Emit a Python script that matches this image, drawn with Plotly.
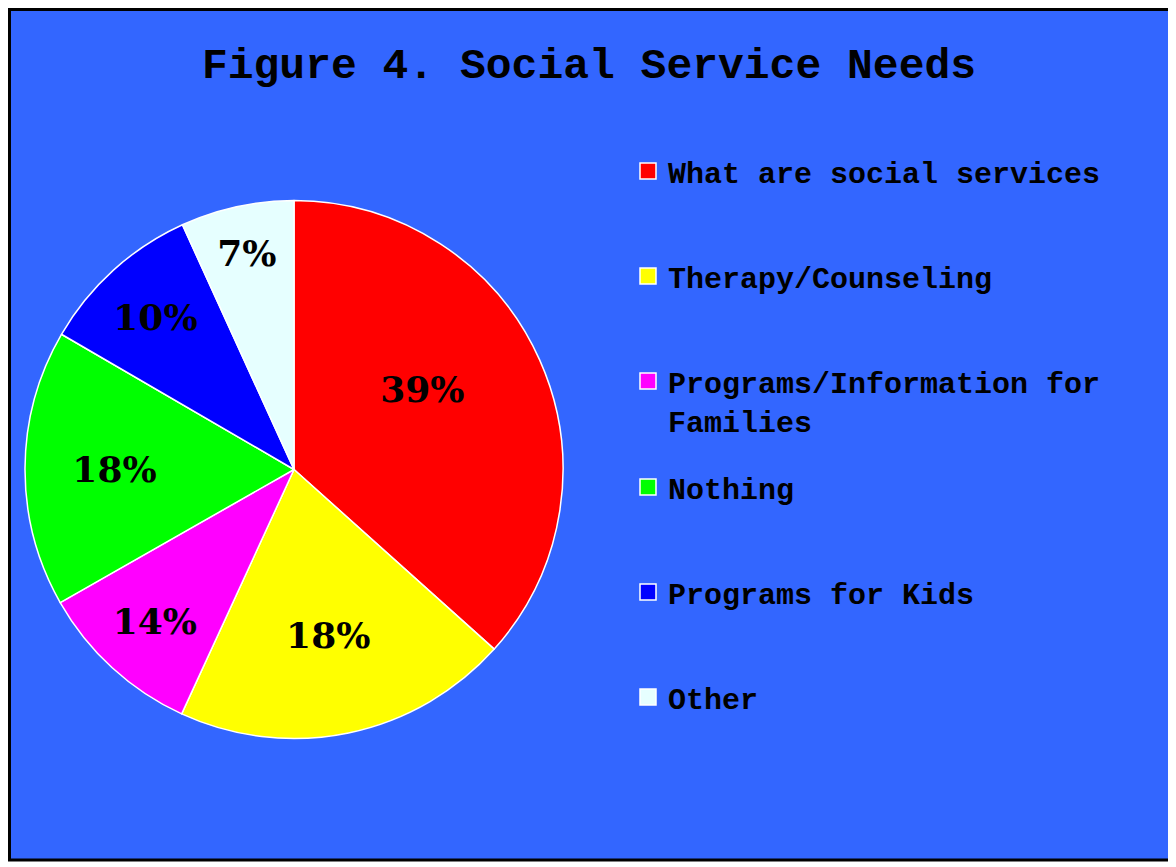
import plotly.graph_objects as go

# ---- data ----
categories = ["What are social services", "Therapy/Counseling",
              "Programs/Information for<br>Families", "Nothing",
              "Programs for Kids", "Other"]
slice_values = [36.6, 20.2, 9.9, 16.6, 9.8, 6.8]     # measured slice sizes
label_text = ["39%", "18%", "14%", "18%", "10%", "7%"]  # printed labels
colors = ["#FF0000", "#FFFF00", "#FF00FF", "#00FF00", "#0000FF", "#E6FFFF"]

# page has an 8px body margin, so the figure is sized to fill the rest
W, H = 1168, 859
OFF = 8
BG = "#3366FF"


def px(x):
    return (x - OFF) / W


def py(y):
    return 1 - (y - OFF) / H


# the large first slice carries its label higher (as in the reference)
shown_text = [t + "<br> " if i == 0 else t for i, t in enumerate(label_text)]

fig = go.Figure()

fig.add_trace(go.Pie(
    labels=categories,
    values=slice_values,
    text=shown_text,
    textinfo="text",
    textposition="inside",
    insidetextorientation="horizontal",
    textfont=dict(family="DejaVu Serif", size=36, color="black", weight="bold"),
    marker=dict(colors=colors, line=dict(color="white", width=1.5)),
    sort=False,
    direction="clockwise",
    rotation=0,
    showlegend=False,
    hoverinfo="label+percent",
    domain=dict(x=[px(25), px(563)], y=[py(739), py(200)]),
))

# legend entries (drawn by plotly's legend) for each category
for i, (cat, col) in enumerate(zip(categories, colors)):
    fig.add_trace(go.Scatter(
        x=[None], y=[None], mode="markers", name=cat,
        marker=dict(symbol="square", size=16, color=col,
                    line=dict(color="white", width=1.5)),
        legendgroup=f"g{i}",
        legend="legend" if i < 3 else "legend2",
        showlegend=True,
    ))

legend_common = dict(
    font=dict(family="Liberation Mono", size=30, color="black", weight="bold"),
    bgcolor="rgba(0,0,0,0)",
    borderwidth=0,
    tracegroupgap=63,
    traceorder="grouped",
    valign="top",
    xanchor="left", yanchor="top",
    itemclick=False, itemdoubleclick=False,
)

fig.update_layout(
    width=W, height=H,
    margin=dict(l=0, r=0, t=0, b=0),
    paper_bgcolor="white",
    plot_bgcolor="rgba(0,0,0,0)",
    title=dict(text="Figure 4. Social Service Needs",
               font=dict(family="Liberation Mono", size=43, color="black", weight="bold"),
               x=px(589), xanchor="center", xref="paper",
               y=py(63), yanchor="middle", yref="container"),
    xaxis=dict(visible=False),
    yaxis=dict(visible=False),
    legend=dict(x=px(628), y=py(145), **legend_common),
    legend2=dict(x=px(628), y=py(461), **legend_common),
    shapes=[dict(type="rect", xref="paper", yref="paper",
                 x0=1.5 / W, x1=px(1171), y0=py(860), y1=1 - 1.5 / H,
                 fillcolor=BG, line=dict(color="black", width=3), layer="below")],
)

fig.write_html("out.html")
